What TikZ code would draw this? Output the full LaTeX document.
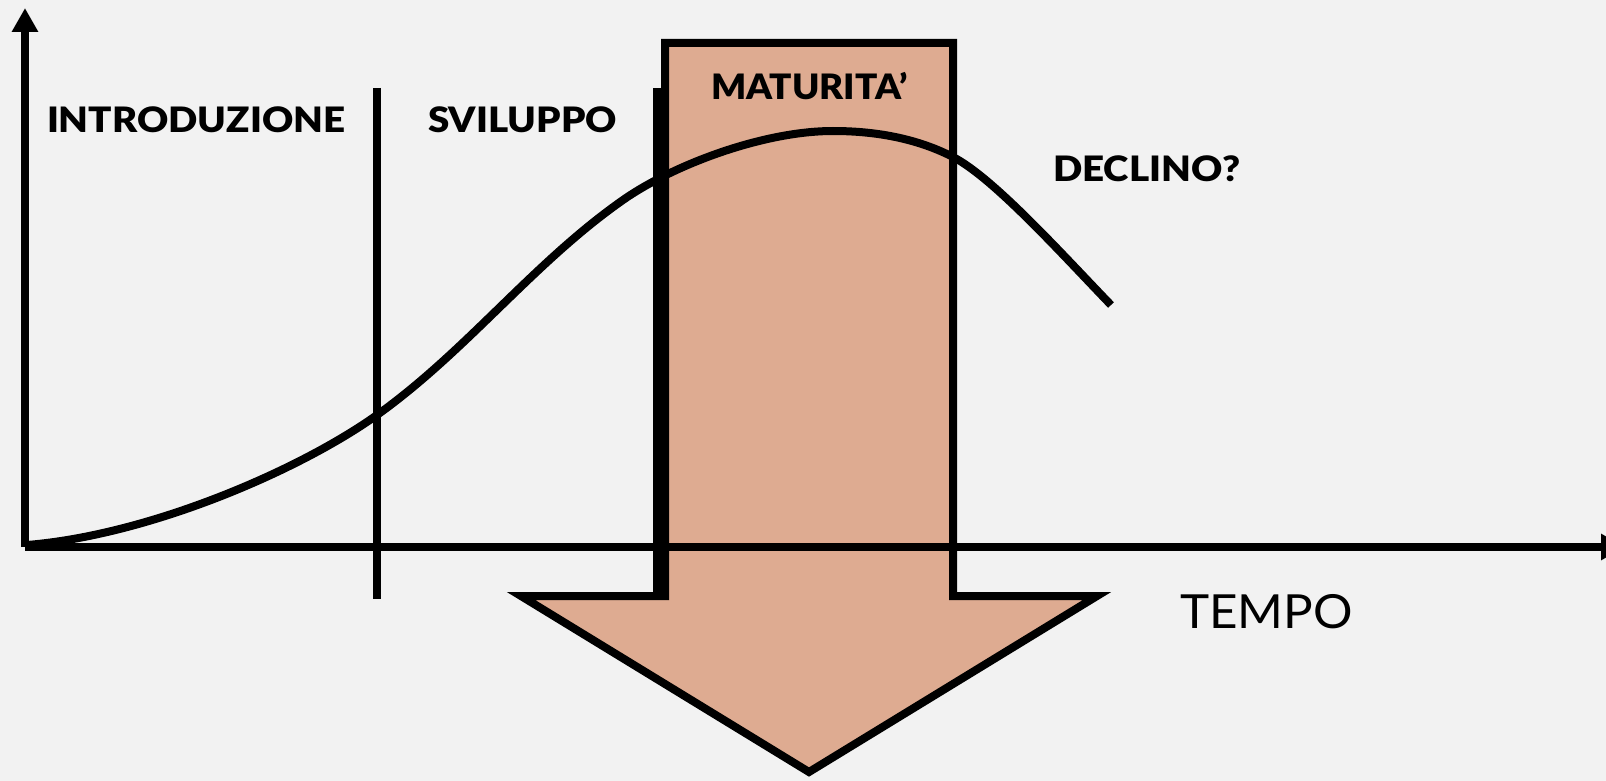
\documentclass[tikz,border=0pt]{standalone}
\usepackage{fontspec}
\usepackage{graphicx}
\setmainfont{Lato}[BoldFont={Lato Black}]
\usetikzlibrary{arrows.meta}
\definecolor{bg}{RGB}{242,242,242}
\definecolor{peach}{RGB}{222,171,145}
\newcommand{\widetxt}[2]{\scalebox{#1}[1]{#2}}
\begin{document}
\begin{tikzpicture}[x=1pt,y=-1pt,line width=8pt,
  lbl/.style={font=\bfseries\fontsize{35}{40}\selectfont, inner sep=0pt, anchor=base west},
  tlbl/.style={font=\fontsize{47}{50}\selectfont, inner sep=0pt, anchor=base west},
  axis/.style={-{Triangle[length=24pt,width=25pt]}},
  sep/.style={line width=8pt},
  blockarrow/.style={fill=peach, draw=black, line width=8pt, line join=miter},
  curve/.style={line width=8pt}]
\useasboundingbox[fill=bg] (0,0) rectangle (1606,781);
% block arrow
\draw[blockarrow] (665,43) -- (953,43) -- (953,596) -- (1097,596) -- (809,772) -- (521,596) -- (665,596) -- cycle;
% separators
\coordinate (s1t) at (377,88);
\coordinate (s1b) at (377,599);
\coordinate (s2t) at (657,88);
\coordinate (s2b) at (657,599);
\draw[sep] (s1t) -- (s1b);
\draw[sep] (s2t) -- (s2b);
% axes
\coordinate (o) at (25,547);
\coordinate (ytop) at (25,8);
\coordinate (xend) at (1625,547);
\draw[axis] (o) -- (ytop);
\draw[axis] (o) -- (xend);
% curve
\draw[curve] (27,545) .. controls (150,535) and (300,470) .. (377,415)
  .. controls (467,350.7) and (533,263) .. (623,200)
  .. controls (673,165) and (763,131) .. (833,131)
  .. controls (880,131) and (920,140) .. (953,157)
  .. controls (993,177.6) and (1060,252) .. (1111,305);
% labels
\node[lbl] (intro) at (43,132) {\widetxt{1.1}{INTRODUZIONE}};
\node[lbl] (svil) at (424,132) {\widetxt{1.1}{SVILUPPO}};
\node[lbl] (mat) at (707,100) {\widetxt{1.05}{MATURITA’}};
\node[lbl] (decl) at (1049,181) {\widetxt{1.1}{DECLINO?}};
\node[tlbl] (tempo) at (1176,628) {\widetxt{1.05}{TEMPO}};
\end{tikzpicture}
\end{document}
